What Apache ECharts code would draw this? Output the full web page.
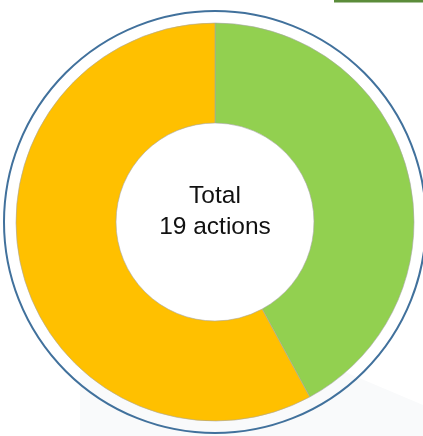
<!DOCTYPE html>
<html>
<head>
<meta charset="utf-8">
<script src="https://cdn.jsdelivr.net/npm/echarts@6/dist/echarts.min.js"></script>
<style>
  html, body { margin: 0; padding: 0; background: #fff; }
  #chart { width: 423px; height: 436px; }
</style>
</head>
<body>
<div id="chart"></div>
<script>
// 数据
const categories = ['Done', 'Open'];
const values = [8, 11];
const colors = ['#92D050', '#FFC000'];
const totalLabel = 'Total';
const unitLabel = 'actions';

const total = values.reduce((a, b) => a + b, 0);
const chart = echarts.init(document.getElementById('chart'));

chart.setOption({
  animation: false,
  graphic: [
    // faint background shape
    {
      type: 'polygon',
      silent: true,
      z: -10,
      shape: { points: [[80, 372], [345, 372], [423, 405], [423, 436], [80, 436]] },
      style: { fill: '#f9fafb' }
    },
    // top right green bar
    {
      type: 'rect',
      silent: true,
      shape: { x: 334, y: 0, width: 89, height: 2.5 },
      style: { fill: '#5B8C3A' }
    },
    // outer ring
    {
      type: 'circle',
      silent: true,
      shape: { cx: 215, cy: 222, r: 211 },
      style: { fill: 'none', stroke: '#41719C', lineWidth: 2 }
    },
    {
      type: 'text',
      silent: true,
      z: 10,
      x: 215,
      y: 212,
      style: {
        text: totalLabel + '\n' + total + ' ' + unitLabel,
        fill: '#111',
        font: '24.5px "Liberation Sans", Arial, sans-serif',
        lineHeight: 31,
        align: 'center',
        verticalAlign: 'middle'
      }
    }
  ],
  series: [
    {
      type: 'pie',
      center: [215, 222],
      radius: [99, 199],
      startAngle: 90,
      clockwise: true,
      silent: true,
      label: { show: false },
      labelLine: { show: false },
      itemStyle: { borderColor: '#a6a6a6', borderWidth: 0.6 },
      data: categories.map((name, i) => ({
        name: name,
        value: values[i],
        itemStyle: { color: colors[i] }
      }))
    }
  ]
});
</script>
</body>
</html>
